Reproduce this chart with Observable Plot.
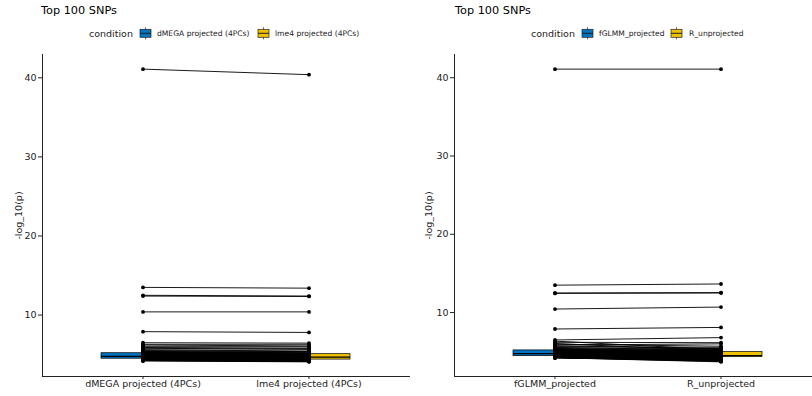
<!DOCTYPE html>
<html><head><meta charset="utf-8">
<script src="https://cdn.jsdelivr.net/npm/d3@7"></script>
<script src="https://cdn.jsdelivr.net/npm/@observablehq/plot@0.6"></script>
<style>
body{margin:0;background:#fff;font-family:"DejaVu Sans",sans-serif;}
#wrap{position:relative;width:812px;height:396px;overflow:hidden;background:#fff;}
#wrap > * {position:absolute;}
</style>
</head><body>
<div id="wrap"></div>
<script>
// ---------- data ----------
const titleText = "Top 100 SNPs";
const legendTitle = "condition";
const yLabel = "-log_10(p)";
const yTicks = [10, 20, 30, 40];
const palette = ["#0073C2", "#EFC000"];

const leftCats = ["dMEGA projected (4PCs)", "lme4 projected (4PCs)"];
const dmega = [
  41.1, 13.5, 12.5, 12.4, 10.4, 7.9, 6.5, 6.3, 6.2, 6.0,
  5.9, 5.8, 5.7, 5.6, 5.5, 5.45, 5.4, 5.35, 5.3, 5.28,
  5.26, 5.24, 5.22, 5.2, 5.18, 5.17, 5.16, 5.15, 5.14, 5.13,
  5.12, 5.1, 5.08, 5.06, 5.04, 5.02, 5.0, 4.98, 4.96, 4.94,
  4.92, 4.9, 4.88, 4.86, 4.84, 4.83, 4.82, 4.81, 4.8, 4.79,
  4.78, 4.76, 4.74, 4.72, 4.71, 4.7, 4.68, 4.67, 4.65, 4.64,
  4.62, 4.61, 4.6, 4.59, 4.58, 4.57, 4.56, 4.55, 4.54, 4.53,
  4.52, 4.51, 4.5, 4.49, 4.48, 4.47, 4.46, 4.45, 4.44, 4.43,
  4.42, 4.41, 4.4, 4.39, 4.38, 4.37, 4.36, 4.35, 4.34, 4.33,
  4.32, 4.31, 4.3, 4.29, 4.28, 4.27, 4.26, 4.25, 4.23, 4.2
];
const lme4 = [
  40.4, 13.4, 12.4, 12.35, 10.4, 7.8, 6.45, 6.3, 6.1, 6.0,
  5.82, 5.65, 5.75, 5.45, 5.38, 5.4, 5.2, 5.3, 5.15, 5.22,
  5.1, 5.18, 5.05, 5.12, 5.0, 5.08, 5.02, 4.98, 5.06, 4.95,
  5.04, 4.92, 5.0, 4.9, 4.96, 4.85, 4.93, 4.82, 4.88, 4.86,
  4.8, 4.84, 4.72, 4.78, 4.7, 4.75, 4.68, 4.74, 4.66, 4.71,
  4.62, 4.69, 4.6, 4.65, 4.58, 4.63, 4.55, 4.6, 4.52, 4.57,
  4.5, 4.54, 4.46, 4.51, 4.44, 4.49, 4.42, 4.47, 4.4, 4.45,
  4.38, 4.43, 4.36, 4.41, 4.34, 4.39, 4.33, 4.37, 4.31, 4.35,
  4.3, 4.32, 4.28, 4.31, 4.26, 4.29, 4.25, 4.27, 4.23, 4.26,
  4.22, 4.24, 4.2, 4.21, 4.18, 4.19, 4.15, 4.17, 4.12, 4.08
];

const rightCats = ["fGLMM_projected", "R_unprojected"];
const fglmm = [
  41.1, 13.5, 12.5, 12.45, 10.45, 7.9, 6.5, 6.35, 6.2, 6.05,
  5.95, 5.85, 5.75, 5.65, 5.55, 5.48, 5.42, 5.36, 5.3, 5.27,
  5.25, 5.23, 5.21, 5.19, 5.17, 5.16, 5.15, 5.14, 5.13, 5.12,
  5.1, 5.08, 5.06, 5.04, 5.02, 5.0, 4.98, 4.96, 4.94, 4.92,
  4.9, 4.88, 4.86, 4.84, 4.82, 4.8, 4.79, 4.78, 4.77, 4.76,
  4.75, 4.73, 4.72, 4.7, 4.68, 4.67, 4.65, 4.64, 4.62, 4.61,
  4.6, 4.59, 4.58, 4.57, 4.56, 4.55, 4.54, 4.53, 4.52, 4.51,
  4.47, 4.46, 4.45, 4.44, 4.43, 4.42, 4.41, 4.4, 4.39, 4.38,
  4.37, 4.36, 4.35, 4.34, 4.33, 4.32, 4.31, 4.3, 4.29, 4.28,
  4.27, 4.27, 4.26, 4.26, 4.25, 4.25, 4.24, 4.24, 4.23, 4.23
];
const runproj = [
  41.1, 13.65, 12.55, 12.5, 10.7, 8.1, 6.8, 5.25, 6.15, 5.1,
  5.7, 6.0, 5.4, 5.55, 5.2, 5.4, 5.05, 5.25, 4.95, 5.15,
  5.0, 5.1, 4.95, 5.05, 4.9, 5.0, 4.85, 4.98, 4.8, 4.95,
  4.9, 4.75, 4.92, 4.7, 4.85, 4.65, 4.8, 4.6, 4.78, 4.55,
  4.75, 4.5, 4.72, 4.45, 4.7, 4.42, 4.65, 4.6, 4.38, 4.62,
  4.58, 4.4, 4.55, 4.5, 4.36, 4.52, 4.48, 4.34, 4.45, 4.42,
  4.45, 4.35, 4.42, 4.4, 4.34, 4.38, 4.36, 4.33, 4.35, 4.37,
  4.38, 4.05, 4.36, 4.34, 4.0, 4.35, 4.33, 3.95, 4.32, 4.3,
  4.2, 3.9, 4.18, 4.15, 3.88, 4.12, 4.1, 3.85, 4.08, 4.05,
  4.02, 3.82, 4.0, 3.98, 3.8, 3.95, 3.92, 3.75, 3.9, 3.7
];

// ---------- drawing ----------
const wrap = document.getElementById("wrap");

function boxStats(vals) {
  const q1 = d3.quantile(vals, 0.25), q3 = d3.quantile(vals, 0.75);
  const iqr = q3 - q1;
  return {
    q1, q3, med: d3.quantile(vals, 0.5),
    lo: d3.min(vals.filter(v => v >= q1 - 1.5 * iqr)),
    hi: d3.max(vals.filter(v => v <= q3 + 1.5 * iqr))
  };
}

function makePanel(cats, a, b, opt) {
  const data = [];
  a.forEach((v, i) => {
    data.push({snp: i, condition: cats[0], value: v});
    data.push({snp: i, condition: cats[1], value: b[i]});
  });
  const all = a.concat(b);
  const lo = d3.min(all), hi = d3.max(all), pad = (hi - lo) * 0.05;
  const chart = Plot.plot({
    width: opt.width,
    height: 352,
    marginTop: 10,
    marginBottom: 20,
    marginLeft: opt.marginLeft,
    marginRight: 1,
    style: {fontFamily: "DejaVu Sans", fontSize: "9.5px", color: "#222", background: "transparent", overflow: "visible", maxWidth: "none"},
    x: {type: "band", domain: cats, paddingInner: 0.5, paddingOuter: 0.35, align: 0.5,
        tickSize: 3, tickPadding: 1, label: null, line: true},
    y: {domain: [lo - pad, hi + pad], ticks: yTicks, tickSize: 4, tickPadding: 2,
        label: yLabel, labelAnchor: "center", labelOffset: opt.labelOffset, labelArrow: "none", line: true},
    color: {domain: cats, range: palette},
    marks: [
      Plot.ruleX(data, Plot.groupX({y1: v => boxStats(v).lo, y2: v => boxStats(v).hi},
        {x: "condition", y: "value", stroke: "black", strokeWidth: 0.7})),
      Plot.barY(data, Plot.groupX({y1: v => boxStats(v).q1, y2: v => boxStats(v).q3},
        {x: "condition", y: "value", fill: "condition", stroke: "black", strokeWidth: 0.7})),
      Plot.tickY(data, Plot.groupX({y: v => boxStats(v).med},
        {x: "condition", y: "value", stroke: "black", strokeWidth: 1.2})),
      Plot.line(data, {x: "condition", y: "value", z: "snp", stroke: "black", strokeWidth: 0.9}),
      Plot.dot(data, {x: "condition", y: "value", fill: "black", r: 1.9})
    ]
  });
  chart.style.left = opt.left + "px";
  chart.style.top = "44px";
  wrap.appendChild(chart);
}

makePanel(leftCats, dmega, lme4, {width: 410, marginLeft: 42, labelOffset: 27, left: 0});
makePanel(rightCats, fglmm, runproj, {width: 416, marginLeft: 48, labelOffset: 29, left: 406});

// header: titles and legends
const head = d3.create("svg").attr("width", 812).attr("height", 44)
  .style("left", "0px").style("top", "0px")
  .style("font-family", "DejaVu Sans");
function header(p) {
  head.append("text").attr("x", p.title).attr("y", 13.5).attr("font-size", 11.3).attr("fill", "#000").text(titleText);
  head.append("text").attr("x", p.cond).attr("y", 36.6).attr("font-size", 9.5).attr("fill", "#222").text(legendTitle);
  p.keys.forEach((k, i) => {
    const g = head.append("g");
    g.append("line").attr("x1", k + 5.5).attr("x2", k + 5.5).attr("y1", 27.3).attr("y2", 39.3).attr("stroke", "#222").attr("stroke-width", 0.7);
    g.append("rect").attr("x", k).attr("y", 29.3).attr("width", 11).attr("height", 8).attr("fill", palette[i]).attr("stroke", "#222").attr("stroke-width", 0.7);
    g.append("line").attr("x1", k).attr("x2", k + 11).attr("y1", 33.3).attr("y2", 33.3).attr("stroke", "#222").attr("stroke-width", 1);
    head.append("text").attr("x", p.labels[i]).attr("y", 36).attr("font-size", 7.6).attr("fill", "#222").text(p.cats[i]);
  });
}
header({title: 41, cond: 89, keys: [140, 258], labels: [157, 275], cats: leftCats});
header({title: 455, cond: 531, keys: [582, 671], labels: [599, 689], cats: rightCats});
wrap.appendChild(head.node());
</script>
</body></html>
